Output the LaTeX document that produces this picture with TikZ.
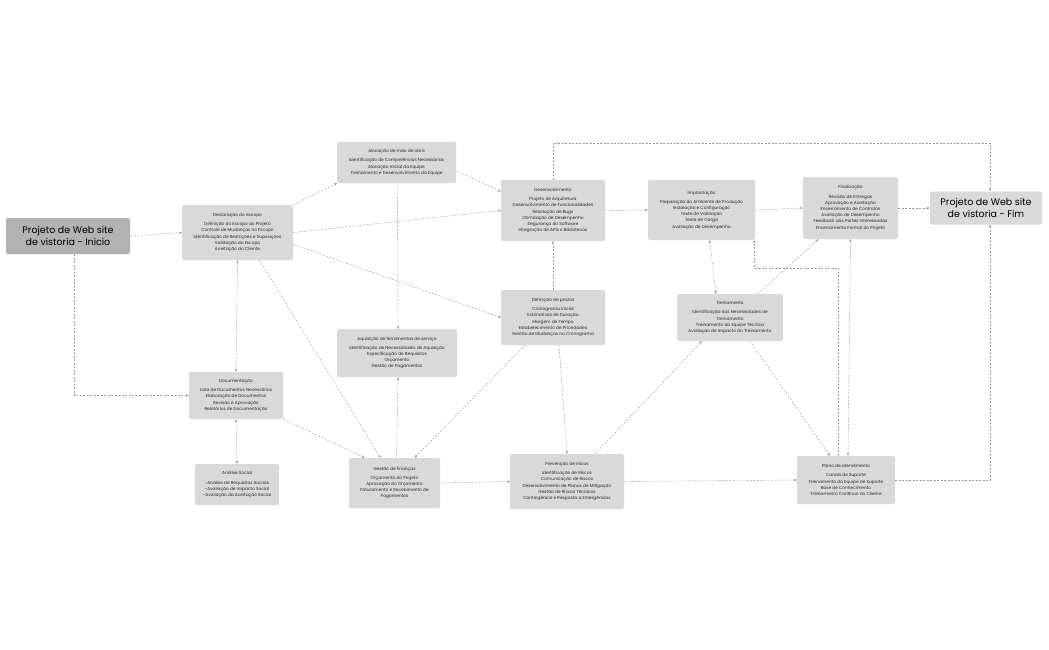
\documentclass[tikz,border=0pt]{standalone}
\usepackage{fontspec}
\setmainfont{Poppins}
\usetikzlibrary{arrows.meta,calc}
\begin{document}
\begin{tikzpicture}[x=1pt,y=-1pt,
  box/.style={fill=black!15,rounded corners=2pt,align=center,inner sep=1pt,font=\fontsize{4.3}{6.2}\selectfont,text=black!85},
  title/.style={rounded corners=2pt,align=center,inner sep=2pt,font=\fontsize{9.5}{11.5}\selectfont,text=black},
  con/.style={draw=black!40,dashed,dash pattern=on 2pt off 1.5pt,line width=0.4pt,-{Stealth[length=3pt,width=2.4pt]}},
  bicon/.style={con,{Stealth[length=3pt,width=2.4pt]}-{Stealth[length=3pt,width=2.4pt]}}]
\useasboundingbox[fill=white] (0,0) rectangle (1049,650);
\node[title,fill=black!30,minimum width=124,minimum height=36] (ini) at (68,236) {Projeto de Web site\\de vistoria - Inicio};
\node[title,fill=black!15,minimum width=112,minimum height=33] (fim) at (986,208) {Projeto de Web site\\de vistoria - Fim};
\node[box,minimum width=111,minimum height=55] (decl) at (237.5,232.5) {Declaração do escopo\\[3pt]Definição do Escopo do Projeto\\Controle de Mudanças no Escopo\\Identificação de Restrições e Suposições\\Validação do Escopo\\Aceitação do Cliente};
\node[box,minimum width=119,minimum height=41] (aloc) at (396.5,162.5) {Alocação de mão de obra\\[3pt]Identificação de Competências Necessárias\\Alocação Inicial da Equipe\\Treinamento e Desenvolvimento da Equipe};
\node[box,minimum width=104,minimum height=61] (dev) at (553,210.5) {Desenvolvimento\\[3pt]Projeto de Arquitetura\\Desenvolvimento de Funcionalidades\\Resolução de Bugs\\Otimização de Desempenho\\Segurança do Software\\Integração de APIs e Bibliotecas};
\node[box,minimum width=107,minimum height=60] (impl) at (701.5,210) {Implantação\\[3pt]Preparação do Ambiente de Produção\\Instalação e Configuração\\Teste de Validação\\Teste de Carga\\Avaliação de Desempenho};
\node[box,minimum width=95,minimum height=62] (final) at (850.5,208) {Finalização\\[3pt]Revisão de Entregas\\Aprovação e Aceitação\\Encerramento de Contratos\\Avaliação de Desempenho\\Feedback das Partes Interessadas\\Encerramento Formal do Projeto};
\node[box,minimum width=104,minimum height=55] (praz) at (553,317.5) {Definição de prazos\\[3pt]Cronograma Inicial\\Estimativas de Duração\\Margem de Tempo\\Estabelecimento de Prioridades\\Gestão de Mudanças no Cronograma};
\node[box,minimum width=106,minimum height=47] (trein) at (730,317.5) {Treinamento\\[3pt]Identificação das Necessidades de\\Treinamento\\Treinamento da Equipe Técnica\\Avaliação de Impacto do Treinamento};
\node[box,minimum width=120,minimum height=48] (aqui) at (397,353) {Aquisição de ferramentas de serviço\\[3pt]Identificação de Necessidades de Aquisição\\Especificação de Requisitos\\Orçamento\\Gestão de Pagamentos};
\node[box,minimum width=94,minimum height=47] (doc) at (236,395.5) {Documentação\\[3pt]Lista de Documentos Necessários\\Elaboração de Documentos\\Revisão e Aprovação\\Relatórios de Documentação};
\node[box,minimum width=84,minimum height=41] (soc) at (237,484.5) {Análise Social\\[3pt]-Análise de Requisitos Sociais\\-Avaliação de Impacto Social\\-Avaliação da Aceitação Social};
\node[box,minimum width=91,minimum height=50] (fin) at (394.5,483) {Gestão de finanças\\[3pt]Orçamento do Projeto\\Aprovação do Orçamento\\Faturamento e Recebimento de\\Pagamentos};
\node[box,minimum width=114,minimum height=55] (prev) at (567,481.5) {Prevenção de riscos\\[3pt]Identificação de Riscos\\Comunicação de Riscos\\Desenvolvimento de Planos de Mitigação\\Gestão de Riscos Técnicos\\Contingência e Resposta a Emergências};
\node[box,minimum width=98,minimum height=48] (plano) at (846,480) {Plano de atendimento\\[3pt]Canais de Suporte\\Treinamento da Equipe de Suporte\\Base de Conhecimento\\Treinamento Contínuo do Cliente};
% connectors
\draw[con] (ini.east) -- (decl.west);
\draw[con] ([xshift=6]ini.south) |- (doc.west);
\draw[con] (decl.north east) -- (aloc.south west);
\draw[con] (decl.east) -- (dev.west);
\draw[con] (decl.-12) -- (praz.west);
\draw[bicon] (decl.south) -- (doc.north);
\draw[con] ([xshift=22]decl.south) -- ([xshift=-14]fin.north);
\draw[con] (aloc.-8) -- (dev.160);
\draw[con] ([xshift=1]aloc.south) -- ([xshift=1]aqui.north);
\draw[con] ([xshift=2]fin.north) -- ([xshift=1]aqui.south);
\draw[con] (doc.south east) -- ([xshift=-30]fin.north);
\draw[bicon] (doc.south) -- (soc.north);
\draw[con] ([xshift=-28]praz.south) -- ([xshift=20]fin.north);
\draw[con] (praz.north) -- (dev.south);
\draw[con] ([xshift=6]praz.south) -- (prev.north);
\draw[con] (fin.east) -- (prev.west);
\draw[con] (prev.east) -- (plano.west);
\draw[con] ([xshift=28]prev.north) -- ([xshift=-28]trein.south);
\draw[con] (dev.east) -- (impl.west);
\draw[con] (dev.north) -- ++(0,-37) -| ([xshift=4]fim.north);
\draw[con] (impl.east) -- (final.west);
\draw[con] (final.east) -- (fim.west);
\draw[bicon] ([xshift=-14]trein.north) -- ([xshift=8]impl.south);
\draw[con] ([xshift=28]trein.north) -- ([xshift=-32]final.south);
\draw[con] ([xshift=20]trein.south) -- ([xshift=-16]plano.north);
\draw[con] ([xshift=-8]plano.north) -- ++(0,-188) -| ([xshift=-1]impl.south east);
\draw[bicon] ([xshift=2]plano.north) -- ([xshift=0]final.south);
\draw[con] (plano.east) -| ([xshift=4]fim.south);
\end{tikzpicture}
\end{document}
